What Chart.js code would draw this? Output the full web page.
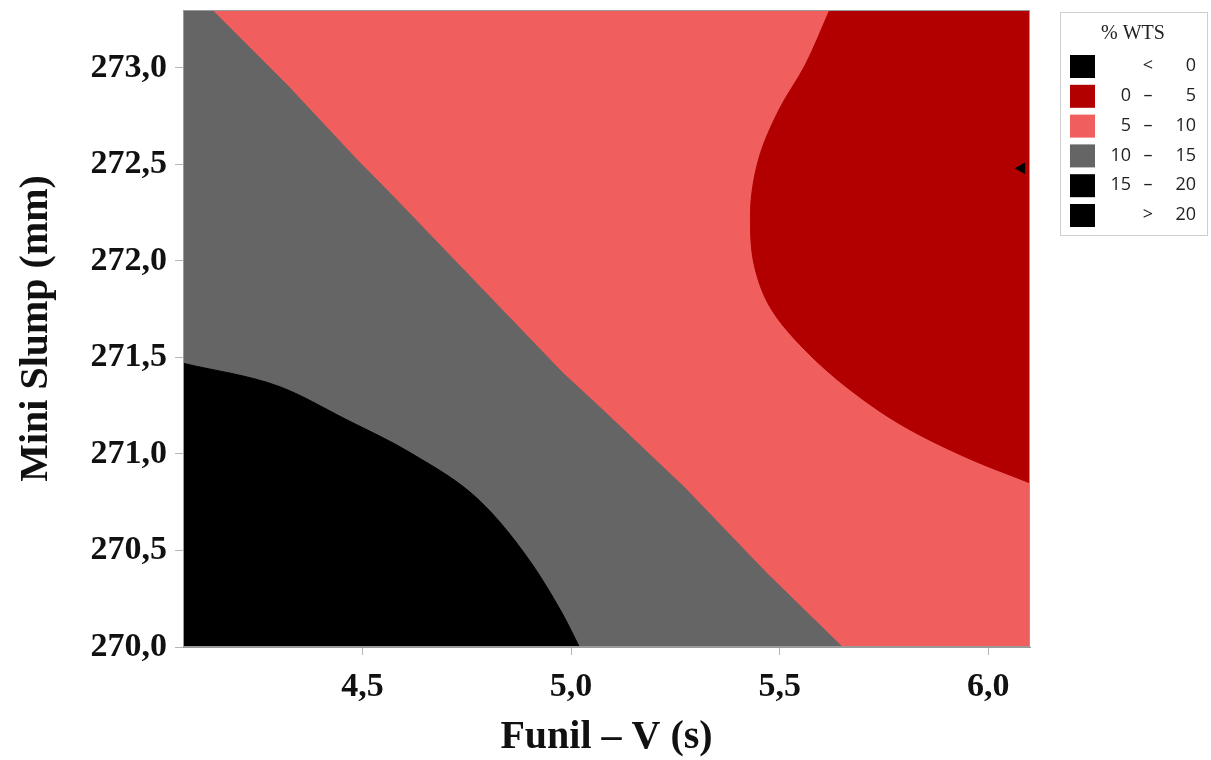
<!DOCTYPE html>
<html>
<head>
<meta charset="utf-8">
<script src="https://cdn.jsdelivr.net/npm/chart.js@4"></script>
<style>
  html, body { margin: 0; padding: 0; background: #fff; }
  #wrap { width: 1211px; height: 760px; }
</style>
</head>
<body>
<div id="wrap"><canvas id="contour"></canvas></div>
<script>
// Axis ranges and ticks
const xRange = [4.07, 6.1];
const yRange = [270.0, 273.3];
const xTicks = [4.5, 5.0, 5.5, 6.0];
const yTicks = [270.0, 270.5, 271.0, 271.5, 272.0, 272.5, 273.0];

// Contour lines (Funil-V, Mini Slump)
const c15X = [4.07, 4.30, 4.46, 4.62, 4.78, 4.90, 4.98, 5.02];
const c15Y = [271.47, 271.35, 271.18, 271.00, 270.76, 270.45, 270.17, 270.00];
const c10X = [4.14, 4.32, 4.48, 4.58, 4.82, 4.98, 5.07, 5.27, 5.47, 5.65];
const c10Y = [273.30, 272.91, 272.54, 272.32, 271.78, 271.42, 271.24, 270.83, 270.38, 270.00];
// the 5 % contour bends back, so it is stored bottom-to-top (x as a function of y)
const c5X  = [6.10, 5.96, 5.80, 5.67, 5.56, 5.48, 5.44, 5.43, 5.45, 5.50, 5.56, 5.62];
const c5Y  = [270.85, 270.97, 271.14, 271.33, 271.54, 271.75, 271.97, 272.23, 272.53, 272.79, 273.01, 273.30];

// Optimum marker at the right edge
const markX = [6.08];
const markY = [272.48];

// Legend (% WTS)
const legendLo  = ['', '0', '5', '10', '15', ''];
const legendSep = ['<', '–', '–', '–', '–', '>'];
const legendHi  = ['0', '5', '10', '15', '20', '20'];
const legendColors = ['#000000', '#b20000', '#f05e5e', '#656565', '#000000', '#000000'];

const pts = (xs, ys) => xs.map((x, i) => ({ x, y: ys[i] }));
const [x0, x1] = xRange;
const [y0, y1] = yRange;

const region = (label, data, color, fill, extra) => Object.assign({
  label, data, fill, showLine: true, cubicInterpolationMode: 'monotone',
  backgroundColor: color, borderColor: color, borderWidth: 1, pointRadius: 0
}, extra || {});

const serif = 'Liberation Serif, "Times New Roman", serif';
const fmt = v => Number(v).toFixed(1).replace('.', ',');

const frameAndLegend = {
  id: 'frameAndLegend',
  afterDatasetsDraw(chart) {
    const { ctx, chartArea: a } = chart;
    ctx.save();
    ctx.strokeStyle = '#9a9a9a';
    ctx.lineWidth = 1;
    ctx.strokeRect(a.left + 0.5, a.top + 0.5, a.right - a.left - 1, a.bottom - a.top - 1);
    ctx.restore();
  },
  afterDraw(chart) {
    const { ctx } = chart;
    ctx.save();
    ctx.strokeStyle = '#cfcfcf';
    ctx.lineWidth = 1;
    ctx.strokeRect(1060.5, 12.5, 147, 223);
    ctx.fillStyle = '#222';
    ctx.font = '20px ' + serif;
    ctx.textAlign = 'center';
    ctx.textBaseline = 'middle';
    ctx.fillText('% WTS', 1133, 34);
    ctx.font = '18px "Open Sans", sans-serif';
    legendColors.forEach((c, i) => {
      const yc = 66 + i * 29.8;
      ctx.fillStyle = c;
      ctx.fillRect(1070, yc - 11, 25, 23);
      ctx.fillStyle = '#222';
      ctx.textAlign = 'right';
      ctx.fillText(legendLo[i], 1131, yc);
      ctx.fillText(legendHi[i], 1196, yc);
      ctx.textAlign = 'center';
      ctx.fillText(legendSep[i], 1148, yc);
    });
    ctx.restore();
  }
};

new Chart(document.getElementById('contour'), {
  type: 'line',
  data: {
    datasets: [
      { label: 'marker', data: pts(markX, markY), showLine: false, pointStyle: 'triangle',
        rotation: -90, pointRadius: 6, backgroundColor: '#000', borderColor: '#000' },
      region('0 – 5', pts(c5X, c5Y), '#b20000', { value: x1 }, { indexAxis: 'y' }),
      region('15 – 20', pts(c15X, c15Y), '#000000', { value: y0 }),
      region('10 – 15', [{ x: x0, y: y1 }, ...pts(c10X, c10Y)], '#656565', { value: y0 },
             { cubicInterpolationMode: 'default', tension: 0 }),
      region('5 – 10', [{ x: x0, y: y0 }, { x: x1, y: y0 }], '#f05e5e', { value: y1 })
    ]
  },
  options: {
    responsive: true,
    maintainAspectRatio: false,
    animation: false,
    layout: { padding: { top: 10, right: 181, left: 0, bottom: 0 } },
    plugins: {
      legend: { display: false },
      tooltip: { enabled: false }
    },
    scales: {
      x: {
        type: 'linear', min: x0, max: x1,
        afterFit: s => { s.height = 113; s.paddingLeft = 0; s.paddingRight = 0; },
        afterBuildTicks: s => { s.ticks = xTicks.map(v => ({ value: v })); },
        grid: { drawOnChartArea: false, drawTicks: true, tickLength: 8, color: '#b5b5b5' },
        border: { display: true, color: '#9a9a9a' },
        ticks: { callback: fmt, color: '#111', padding: 12, maxRotation: 0,
                 font: { family: serif, size: 34, weight: 'bold' } },
        title: { display: true, text: 'Funil – V (s)', color: '#111', padding: { top: 0, bottom: 0 },
                 font: { family: serif, size: 40, weight: 'bold', lineHeight: 1.1 } }
      },
      y: {
        type: 'linear', min: y0, max: y1,
        afterFit: s => { s.width = 183; s.paddingTop = 0; s.paddingBottom = 0; },
        afterBuildTicks: s => { s.ticks = yTicks.map(v => ({ value: v })); },
        grid: { drawOnChartArea: false, drawTicks: true, tickLength: 8, color: '#b5b5b5' },
        border: { display: true, color: '#9a9a9a' },
        ticks: { callback: fmt, color: '#111', padding: 8,
                 font: { family: serif, size: 34, weight: 'bold' } },
        title: { display: true, text: 'Mini Slump (mm)', color: '#111', padding: { top: 15, bottom: 0 },
                 font: { family: serif, size: 40, weight: 'bold', lineHeight: 1.1 } }
      }
    }
  },
  plugins: [frameAndLegend]
});
</script>
</body>
</html>
